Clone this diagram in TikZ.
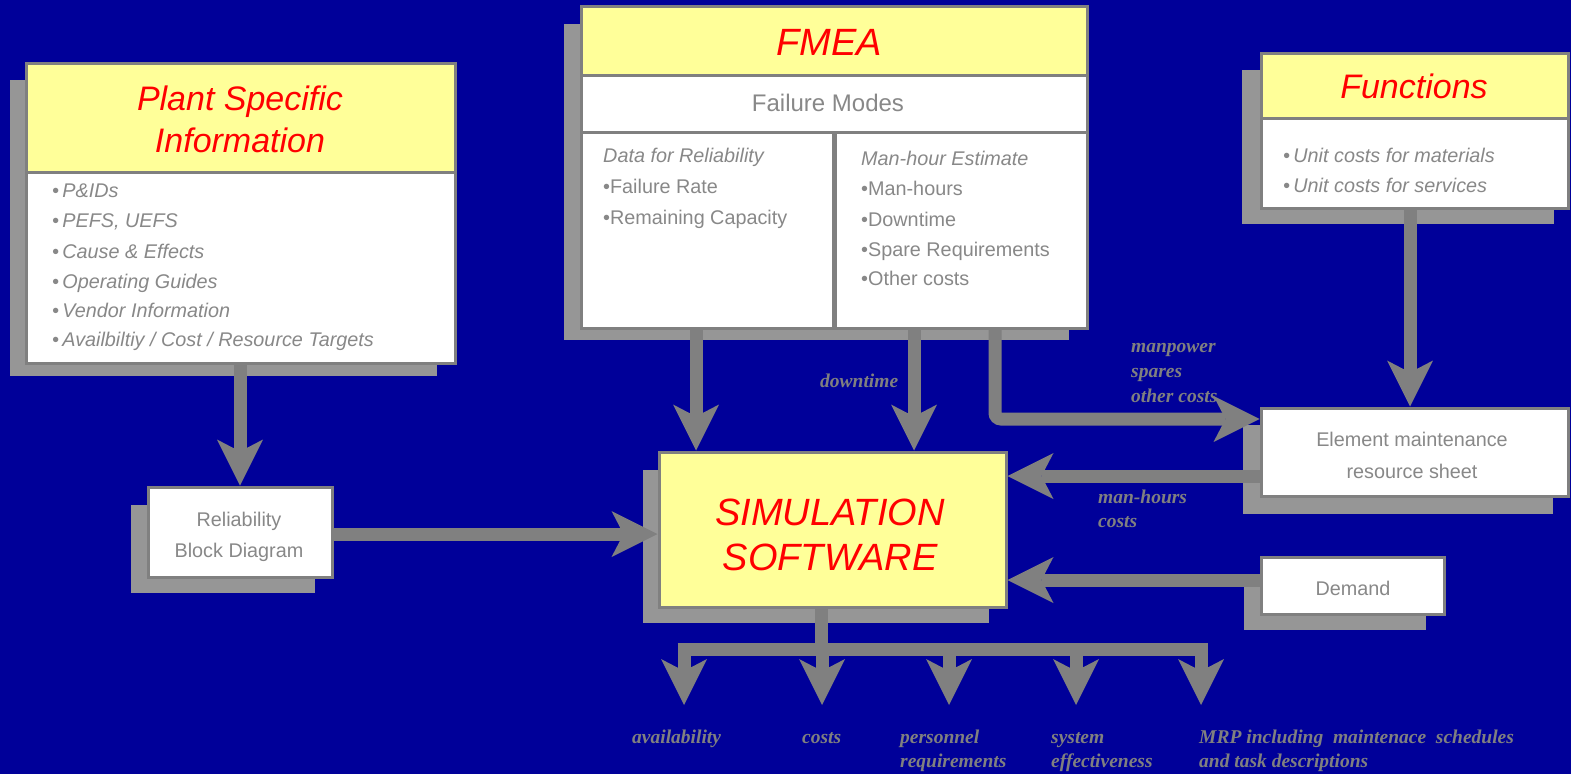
\documentclass[tikz,border=0pt]{standalone}
\usepackage{fontspec}
\setmainfont{Liberation Sans}
\newfontfamily\lblfont{Liberation Serif}
\usetikzlibrary{arrows.meta,calc,fit}
\definecolor{bgblue}{HTML}{000099}
\definecolor{shadowgrey}{HTML}{969696}
\definecolor{edge}{HTML}{808080}
\definecolor{hdr}{HTML}{FFFF99}
\definecolor{ttl}{HTML}{FF0000}
\definecolor{txt}{HTML}{888888}
\definecolor{lbl}{HTML}{808080}
\begin{document}
\begin{tikzpicture}[x=1pt,y=-1pt,
  box/.style={draw=edge, line width=3pt, fill=white, inner sep=0pt},
  hbox/.style={box, fill=hdr},
  titletxt/.style={inner sep=0pt, anchor=base, text=ttl, font=\fontsize{34}{40}\selectfont\itshape},
  bigtitle/.style={titletxt, font=\fontsize{38}{44}\selectfont\itshape},
  itemtxt/.style={inner sep=0pt, anchor=base west, text=txt, font=\fontsize{19.8}{23}\selectfont},
  itemit/.style={itemtxt, font=\fontsize{19.8}{23}\selectfont\itshape},
  ctrtxt/.style={itemtxt, anchor=base},
  lbltxt/.style={inner sep=0pt, anchor=base west, text=lbl, font=\fontsize{19.5}{23}\selectfont\lblfont\bfseries\itshape},
  flow/.style={draw=edge, line width=13pt, -{Stealth[length=46pt, width=46pt, inset=12pt, line width=0pt]}},
  shaft/.style={draw=edge, line width=13pt}
]
\fill[bgblue] (0,0) rectangle (1571,774);
\useasboundingbox (0,0) rectangle (1571,774);

% shadows
\fill[shadowgrey] (10,80) rectangle (437,376);
\fill[shadowgrey] (564,24) rectangle (1069,340);
\fill[shadowgrey] (1242,70) rectangle (1554,224);
\fill[shadowgrey] (1243,425) rectangle (1553,514);
\fill[shadowgrey] (1244,576) rectangle (1426,630);
\fill[shadowgrey] (643,470) rectangle (989,623);
\fill[shadowgrey] (131,505) rectangle (315,593);

% boxes
\node[hbox, fit={(26,63) (455,172)}] (psh) {};
\node[box, fit={(26,172) (455,363)}] (ps) {};
\node[hbox, fit={(581,6) (1087,75)}] (fmh) {};
\node[box, fit={(581,75) (1087,132)}] (fmf) {};
\node[box, fit={(581,132) (833,328)}] (fml) {};
\node[box, fit={(835,132) (1087,328)}] (fmr) {};
\node[hbox, fit={(1261,53) (1568,118)}] (fnh) {};
\node[box, fit={(1261,118) (1568,208)}] (fn) {};
\node[box, fit={(1261,408) (1568,496)}] (el) {};
\node[box, fit={(1261,557) (1444,614)}] (dm) {};
\node[hbox, fit={(659,452) (1006,607)}] (sim) {};
\node[box, fit={(148,487) (332,577)}] (rbd) {};

% connectors
\coordinate (xp) at (240,0);
\draw[flow] (ps.south -| xp) -- (rbd.north -| xp);
\coordinate (yr) at (0,534);
\draw[flow] (rbd.east |- yr) -- (sim.west |- yr);
\coordinate (xa) at (696,0);
\coordinate (xb) at (914,0);
\coordinate (xc) at (995,0);
\draw[flow] (fml.south -| xa) -- (sim.north -| xa);
\draw[flow] (fmr.south -| xb) -- (sim.north -| xb);
\coordinate (ym) at (0,419);
\draw[flow, rounded corners=6pt] (fmr.south -| xc) |- (el.west |- ym);
\coordinate (yh) at (0,476);
\draw[flow] (el.west |- yh) -- (sim.east |- yh);
\coordinate (yd) at (0,580);
\draw[flow] (dm.west |- yd) -- (sim.east |- yd);
\coordinate (xf) at (1410,0);
\draw[flow] (fn.south -| xf) -- (el.north -| xf);
% outputs
\coordinate (bar) at (821,649);
\coordinate (bl) at (677.5,649);
\coordinate (br) at (1207.5,649);
\coordinate (o1) at (684,705);
\coordinate (o2) at (822,705);
\coordinate (o3) at (949,705);
\coordinate (o4) at (1076,705);
\coordinate (o5) at (1201,705);
\draw[shaft] (sim.south -| bar) -- (bar);
\draw[shaft] (bl) -- (br);
\foreach \o in {o1,o2,o3,o4,o5} \draw[flow] (\o |- bar) -- (\o);

% Plant specific
\node[titletxt] (pst1) at (240,110) {Plant Specific};
\node[titletxt] (pst2) at (240,152) {Information};
\node[itemit] (pi1) at (52,197) {•\,P\&IDs};
\node[itemit] (pi2) at (52,227) {•\,PEFS, UEFS};
\node[itemit] (pi3) at (52,258) {•\,Cause \& Effects};
\node[itemit] (pi4) at (52,288) {•\,Operating Guides};
\node[itemit] (pi5) at (52,317) {•\,Vendor Information};
\node[itemit] (pi6) at (52,346) {•\,Availbiltiy / Cost / Resource Targets};

% FMEA
\node[bigtitle] (fmt) at (829,55) {FMEA};
\node[ctrtxt, font=\fontsize{24}{28}\selectfont] (fmft) at (828,111) {Failure Modes};
\node[itemit] (fl0) at (603,162) {Data for Reliability};
\node[itemtxt] (fl1) at (603,193) {•Failure Rate};
\node[itemtxt] (fl2) at (603,224) {•Remaining Capacity};
\node[itemit] (fr0) at (861,165) {Man-hour Estimate};
\node[itemtxt] (fr1) at (861,195) {•Man-hours};
\node[itemtxt] (fr2) at (861,226) {•Downtime};
\node[itemtxt] (fr3) at (861,256) {•Spare Requirements};
\node[itemtxt] (fr4) at (861,285) {•Other costs};

% Functions
\node[titletxt] (fnt) at (1414,98) {Functions};
\node[itemit] (fn1) at (1283,162) {•\,Unit costs for materials};
\node[itemit] (fn2) at (1283,192) {•\,Unit costs for services};

% Other boxes
\node[ctrtxt] (elt1) at (1412,446) {Element maintenance};
\node[ctrtxt] (elt2) at (1412,478) {resource sheet};
\node[ctrtxt] (dmt) at (1353,595) {Demand};
\node[bigtitle] (simt1) at (830,525) {SIMULATION};
\node[bigtitle] (simt2) at (830,570) {SOFTWARE};
\node[ctrtxt] (rbt1) at (239,526) {Reliability};
\node[ctrtxt] (rbt2) at (239,557) {Block Diagram};

% connector labels
\node[lbltxt] (l1) at (820,387) {downtime};
\node[lbltxt] (l2) at (1131,352) {manpower};
\node[lbltxt] (l3) at (1131,377) {spares};
\node[lbltxt] (l4) at (1131,402) {other costs};
\node[lbltxt] (l5) at (1098,503) {man-hours};
\node[lbltxt] (l6) at (1098,527) {costs};
\node[lbltxt] (b1) at (632,743) {availability};
\node[lbltxt] (b2) at (802,743) {costs};
\node[lbltxt] (b3) at (900,743) {personnel};
\node[lbltxt] (b3b) at (900,767) {requirements};
\node[lbltxt] (b4) at (1051,743) {system};
\node[lbltxt] (b4b) at (1051,767) {effectiveness};
\node[lbltxt] (b5) at (1199,743) {MRP including\ \ maintenace\ \ schedules};
\node[lbltxt] (b5b) at (1199,767) {and task descriptions};
\end{tikzpicture}
\end{document}
